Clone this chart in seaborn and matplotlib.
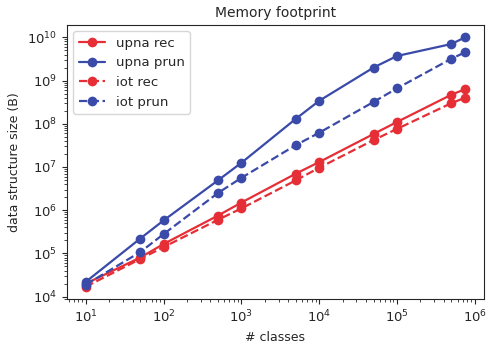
import matplotlib
matplotlib.use("Agg")
import matplotlib.pyplot as plt
import seaborn as sns
import pandas as pd

# number of classes per experiment
classes = [10, 50, 100, 500, 1000, 5000, 10000, 50000, 100000, 500000, 750000]

# data structure size in bytes
upna_rec = [2.0e4, 8.0e4, 1.65e5, 7.5e5, 1.5e6, 7.0e6, 1.3e7, 5.8e7, 1.1e8, 4.7e8, 6.3e8]
upna_prun = [2.2e4, 2.2e5, 5.8e5, 4.9e6, 1.25e7, 1.3e8, 3.4e8, 2.0e9, 3.7e9, 7.0e9, 1.0e10]
iot_rec = [1.7e4, 7.4e4, 1.4e5, 6.0e5, 1.1e6, 4.9e6, 9.6e6, 4.2e7, 7.6e7, 3.0e8, 4.0e8]
iot_prun = [1.9e4, 1.07e5, 2.8e5, 2.5e6, 5.6e6, 3.2e7, 6.2e7, 3.2e8, 6.6e8, 3.2e9, 4.5e9]

series_names = ["upna rec", "upna prun", "iot rec", "iot prun"]
series_values = [upna_rec, upna_prun, iot_rec, iot_prun]

RED = "#e62e36"
BLUE = "#3a4aa8"
styles = {
    "upna rec": (RED, "-"),
    "upna prun": (BLUE, "-"),
    "iot rec": (RED, "--"),
    "iot prun": (BLUE, "--"),
}

sns.set_style("ticks")
plt.rcParams["font.family"] = ["DejaVu Sans"]

fig = plt.figure(figsize=(4.88, 3.45), dpi=100)
ax = fig.add_axes([0.137, 0.133, 0.855, 0.795])

for name, vals in zip(series_names, series_values):
    df = pd.DataFrame({"classes": classes, "size": vals})
    color, ls = styles[name]
    sns.lineplot(data=df, x="classes", y="size", ax=ax, color=color,
                 linestyle=ls, marker="o", markersize=7, markeredgewidth=0,
                 linewidth=1.6, label=name)

ax.set_xscale("log")
ax.set_yscale("log")
ax.set_title("Memory footprint", fontsize=10)
ax.set_xlabel("# classes", fontsize=9)
ax.set_ylabel("data structure size (B)", fontsize=9)
ax.tick_params(axis="both", which="major", labelsize=9.5)
ax.legend(loc="upper left", fontsize=9.5, frameon=True)

fig.savefig("out.png", dpi=100)
